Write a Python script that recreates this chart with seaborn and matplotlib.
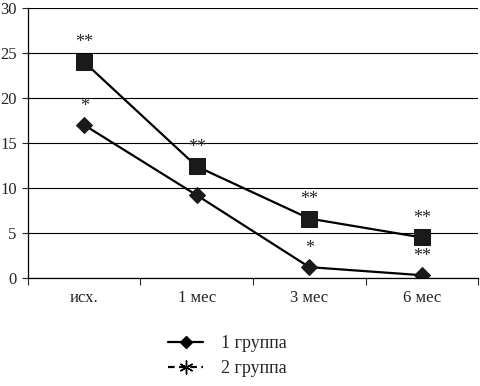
import pandas as pd
import numpy as np
import matplotlib.pyplot as plt
import seaborn as sns
from matplotlib.lines import Line2D

# values
periods = ['исх.', '1 мес', '3 мес', '6 мес']
group1 = [17.0, 9.2, 1.2, 0.3]
group2 = [24.0, 12.4, 6.6, 4.5]
marks1 = ['*', '', '*', '**']
marks2 = ['**', '**', '**', '**']
y_ticks = [0, 5, 10, 15, 20, 25, 30]

df = pd.DataFrame({
    'period': periods * 2,
    'value': group1 + group2,
    'group': ['1 группа'] * 4 + ['2 группа'] * 4,
})
df['x'] = df['period'].map({p: i for i, p in enumerate(periods)})

sns.set_style('white')
plt.rcParams['font.family'] = ['Liberation Serif', 'DejaVu Serif']

fig = plt.figure(figsize=(4.81, 3.86), dpi=100)
ax = fig.add_axes([0.058, 0.280, 0.936, 0.699])

sns.lineplot(data=df, x='x', y='value', hue='group', style='group',
             palette=['black', 'black'], markers={'1 группа': 'D', '2 группа': 's'},
             dashes=False, markersize=10, linewidth=1.6, ax=ax, legend=False)
for ln in ax.lines:
    if ln.get_marker() == 'D':
        ln.set_markersize(8)
    else:
        ln.set_markersize(11)
    ln.set_markerfacecolor('#1a1a1a')
    ln.set_markeredgecolor('#1a1a1a')

# significance stars
for i in range(4):
    if marks1[i]:
        ax.text(i, group1[i] + 1.1, marks1[i], ha='center', va='bottom', fontsize=13)
    ax.text(i, group2[i] + 1.2, marks2[i], ha='center', va='bottom', fontsize=13)

ax.set_xlim(-0.5, 3.5)
ax.set_ylim(0, 30)
ax.set_yticks(y_ticks)
ax.set_xticks(range(4))
ax.set_xticklabels(periods)
ax.set_xticks([-0.5, 0.5, 1.5, 2.5, 3.5], minor=True)
ax.tick_params(axis='x', which='major', length=0, pad=9, labelsize=12)
ax.tick_params(axis='x', which='minor', length=5, width=0.8, direction='out', bottom=True)
ax.tick_params(axis='y', length=4, width=0.8, direction='out', left=True, pad=4, labelsize=12)
ax.yaxis.grid(True, color='black', linewidth=0.8)
ax.set_axisbelow(True)
ax.set_xlabel('')
ax.set_ylabel('')
for s in ['top', 'right']:
    ax.spines[s].set_visible(False)
for s in ['left', 'bottom']:
    ax.spines[s].set_color('black')
    ax.spines[s].set_linewidth(0.9)

handles = [
    Line2D([], [], color='black', linewidth=1.6, marker='D', markersize=6),
    Line2D([], [], color='black', linewidth=1.6, linestyle=(0, (3, 2)),
           marker=(6, 2, 0), markersize=10, markeredgewidth=1.0),
]
fig.legend(handles, ['1 группа', '2 группа'], loc='upper left',
           bbox_to_anchor=(0.335, 0.15), frameon=False, fontsize=13,
           handlelength=1.9, handletextpad=1.0, labelspacing=0.45,
           borderaxespad=0)

fig.savefig('out.png', dpi=100)
